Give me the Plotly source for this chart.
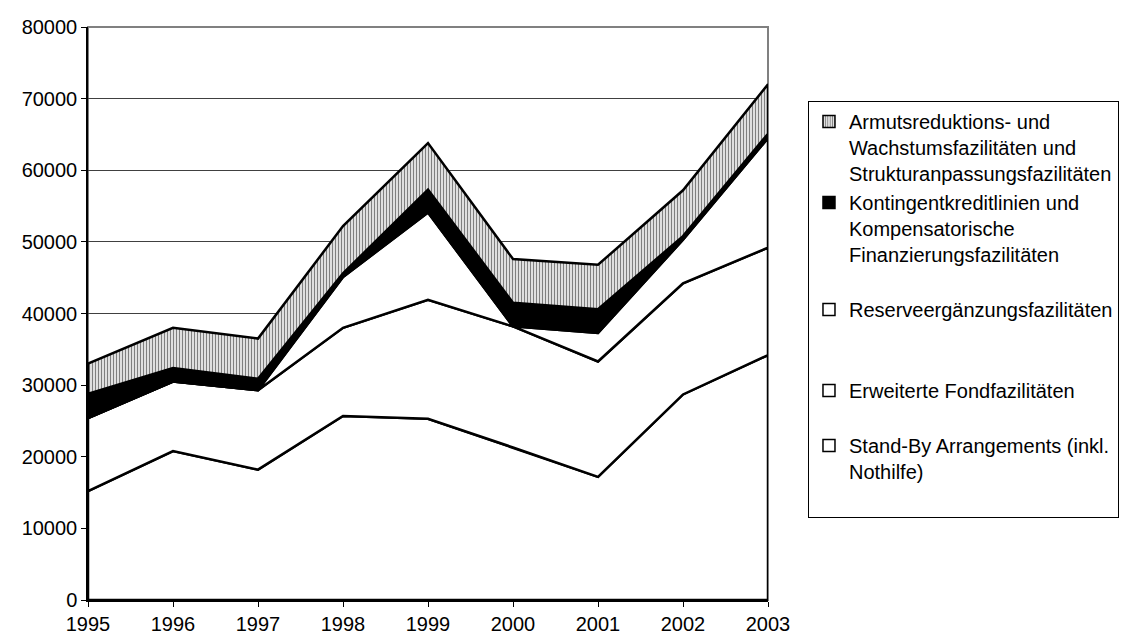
import plotly.graph_objects as go

years = [1995, 1996, 1997, 1998, 1999, 2000, 2001, 2002, 2003]
standby = [15200, 20800, 18200, 25700, 25300, 21300, 17200, 28700, 34200]
erweitert = [10200, 9700, 11100, 12300, 16600, 16900, 16100, 15500, 15000]
reserve = [0, 0, 0, 7100, 12200, 0, 4000, 6100, 15300]
kontingent = [3400, 1900, 1600, 500, 3200, 3300, 3300, 500, 600]
armut = [4200, 5600, 5600, 6600, 6500, 6100, 6200, 6400, 6900]

names = [
    "Stand-By Arrangements (inkl.<br>Nothilfe)<br> ",
    "Erweiterte Fondfazilitäten<br> ",
    "Reserveergänzungsfazilitäten<br> <br> ",
    "Kontingentkreditlinien und<br>Kompensatorische<br>Finanzierungsfazilitäten<br> ",
    "Armutsreduktions- und<br>Wachstumsfazilitäten und<br>Strukturanpassungsfazilitäten",
]
series = [standby, erweitert, reserve, kontingent, armut]
fills = ["white", "white", "white", "black", "white"]
hatch = dict(shape="|", fgcolor="black", bgcolor="white", size=3, solidity=0.5)
patterns = [None, None, None, None, hatch]

FONT = "Liberation Sans, Arial, sans-serif"

fig = go.Figure()

bottom = [0] * len(years)
for s, fc, pat in zip(series, fills, patterns):
    top = [b + v for b, v in zip(bottom, s)]
    xs = years + years[::-1] + [years[0]]
    ys = top + bottom[::-1] + [top[0]]
    kw = dict(fillpattern=pat) if pat else {}
    fig.add_trace(go.Scatter(
        x=xs, y=ys, mode="lines", fill="toself", fillcolor=fc,
        line=dict(color="black", width=2.5), showlegend=False,
        cliponaxis=False, hoverinfo="skip", **kw))
    bottom = top

# legend entries (squares), top entry first
for i in range(len(names) - 1, -1, -1):
    marker = dict(color=fills[i], line=dict(color="black", width=1.5))
    if patterns[i]:
        marker["pattern"] = patterns[i]
    fig.add_trace(go.Bar(x=[None], y=[None], name=names[i], marker=marker,
                         showlegend=True, legendgroup=f"g{i}"))

fig.update_layout(
    width=1123, height=637,
    margin=dict(l=88, r=355, t=27, b=37, autoexpand=False),
    paper_bgcolor="white", plot_bgcolor="white",
    font=dict(family=FONT, size=20, color="black"),
    showlegend=True,
    legend=dict(
        x=1.0588, y=0.871, xanchor="left", yanchor="top",
        traceorder="grouped", tracegroupgap=0, valign="top",
        bgcolor="white", bordercolor="black", borderwidth=1,
        font=dict(family=FONT, size=20, color="black"),
        itemwidth=30,
    ),
    xaxis=dict(
        type="linear", range=[1995, 2003], tickmode="array", tickvals=years,
        ticktext=[str(y) for y in years], showgrid=False, zeroline=False,
        showline=True, linecolor="black", linewidth=2, ticks="outside",
        ticklen=5, tickcolor="black", tickfont=dict(size=20),
    ),
    yaxis=dict(
        range=[0, 80000], dtick=10000, tickformat="d", showgrid=True,
        gridcolor="#404040", gridwidth=1, zeroline=False, showline=True,
        linecolor="black", linewidth=1.5, ticks="outside", ticklen=5,
        tickcolor="black", tickfont=dict(size=20),
    ),
    shapes=[dict(type="rect", xref="paper", yref="paper", x0=0, x1=1, y0=0, y1=1,
                 line=dict(color="#808080", width=2), layer="below")],
)

fig.write_html("out.html")
